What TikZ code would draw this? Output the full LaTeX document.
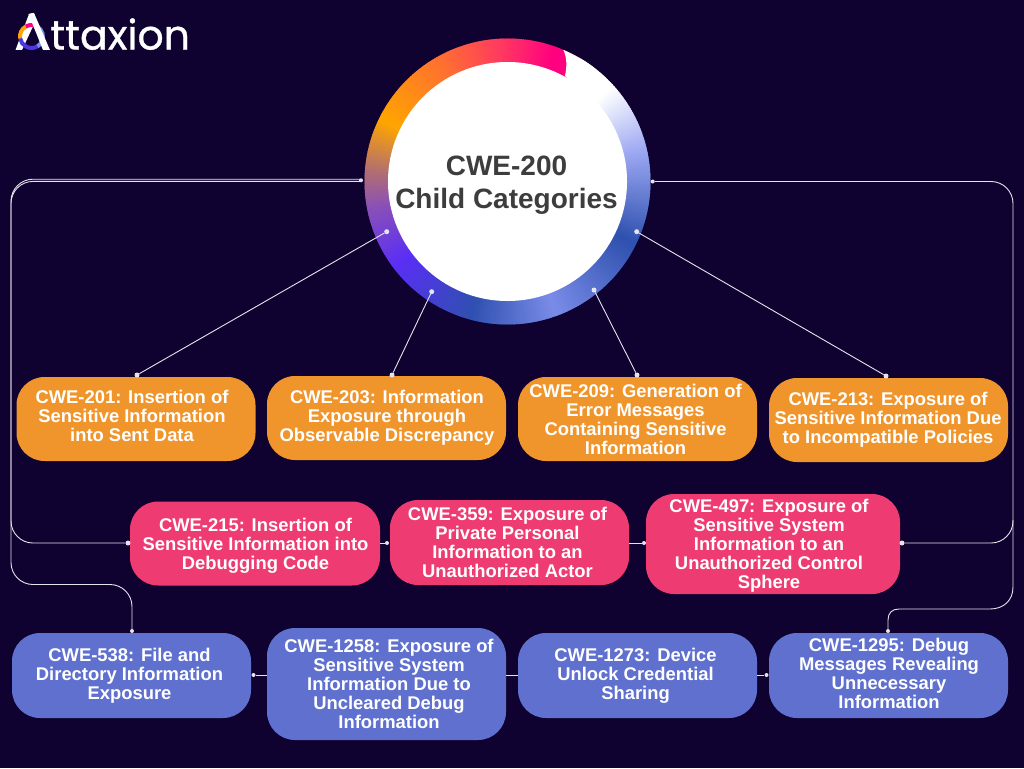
\documentclass[tikz,border=0pt]{standalone}
\usepackage{fontspec}
\setmainfont{Liberation Sans}
\newfontfamily\logofont[FakeBold=0.8]{Poppins}
\usetikzlibrary{calc}
\definecolor{bgc}{HTML}{0F0230}
\definecolor{orangebox}{HTML}{F0952B}
\definecolor{pinkbox}{HTML}{EE3B71}
\definecolor{bluebox}{HTML}{5F70CF}
\definecolor{linec}{HTML}{E4E4EC}
\definecolor{titlec}{HTML}{3D3D3D}
\definecolor{s0}{HTML}{FFFFFF}
\definecolor{s1}{HTML}{FFFFFF}
\definecolor{s2}{HTML}{9AA6F2}
\definecolor{s3}{HTML}{2E50AE}
\definecolor{s4}{HTML}{7A8CE8}
\definecolor{s5}{HTML}{2F50B0}
\definecolor{s6}{HTML}{5A2EF5}
\definecolor{s7}{HTML}{8A50B8}
\definecolor{s8}{HTML}{B4706E}
\definecolor{s9}{HTML}{FFA500}
\definecolor{s10}{HTML}{FF7030}
\definecolor{s11}{HTML}{FF3A60}
\definecolor{s12}{HTML}{FF0080}
% text block placed at (dx,dy) px from the centre of its box
\newcommand{\tb}[3]{\makebox[0pt][l]{\hspace*{#1pt}\makebox[0pt][c]{\raisebox{\dimexpr-7pt-#2pt\relax}[0pt][0pt]{\begin{tabular}{@{}c@{}}#3\end{tabular}}}}}
\tikzset{
  box/.style={rounded corners=28pt,minimum width=239pt,text=white,inner sep=0pt,
    font=\fontsize{18.4}{19}\selectfont\bfseries},
  obox/.style={box,fill=orangebox,minimum height=84pt},
  pbox/.style={box,fill=pinkbox,minimum height=84pt},
  bbox/.style={box,fill=bluebox,minimum height=85pt},
  dotn/.style={circle,fill=linec,inner sep=0pt,minimum size=5pt},
  conn/.style={draw=linec,line width=0.9pt},
  curve/.style={conn,rounded corners=22pt},
}
\begin{document}
\begin{tikzpicture}[x=1pt,y=-1pt]
\useasboundingbox (0,0) rectangle (1024,768);
\fill[bgc] (0,0) rectangle (1024,768);
% ring
\def\cx{507.5}\def\cy{181.5}
\foreach \aa/\ab/\ca/\cb in {30/48/s0/s1,48/78/s1/s2,78/116/s2/s3,116/160/s3/s4,160/195/s4/s5,195/233/s5/s6,233/259/s6/s7,259/275/s7/s8,275/296/s8/s9,296/331/s9/s10,331/357/s10/s11,357/380/s11/s12,380/390/s12/s12}{
  \pgfmathtruncatemacro\na{\aa}
  \pgfmathtruncatemacro\nb{\ab-1}
  \foreach \t in {\na,...,\nb}{
    \pgfmathsetmacro\p{100*(\t+0.5-\aa)/(\ab-\aa)}
    \pgfmathsetmacro\q{\t+1.6}
    \colorlet{segc}{\cb!\p!\ca}
    \fill[segc]
      ({\cx+143*sin(\t)},{\cy-143*cos(\t)}) -- ({\cx+143*sin(\q)},{\cy-143*cos(\q)})
      -- ({\cx+110*sin(\q)},{\cy-110*cos(\q)}) -- ({\cx+110*sin(\t)},{\cy-110*cos(\t)}) -- cycle;
  }
}
% white start of the ring
\fill[white] ({\cx+143*sin(23)},{\cy-143*cos(23)}) arc[start angle=67,end angle=52,radius=143pt] -- (590,100) -- (565,76)
  .. controls (567,66) and (567,58) .. cycle;
\node[circle,fill=white,minimum size=239pt,inner sep=0pt] (hub) at (\cx,\cy) {};
\node[text=titlec,align=center,inner sep=0pt,font=\fontsize{28}{33}\selectfont\bfseries] (title) at (506.5,185) {CWE-200\\Child Categories};
% boxes
\node[obox] (b201) at (136,419) {\tb{-4}{-3}{CWE-201: Insertion of\\Sensitive Information\\into Sent Data}};
\node[obox] (b203) at (386.5,418) {\tb{0.5}{-2}{CWE-203: Information\\Exposure through\\Observable Discrepancy}};
\node[obox] (b209) at (637.5,419) {\tb{-2}{0.5}{CWE-209: Generation of\\Error Messages\\Containing Sensitive\\Information}};
\node[obox] (b213) at (888.5,420) {\tb{-0.5}{-2}{CWE-213: Exposure of\\Sensitive Information Due\\to Incompatible Policies}};
\node[pbox,minimum width=250pt] (b215) at (255,543.5) {\tb{0.5}{0.5}{CWE-215: Insertion of\\Sensitive Information into\\Debugging Code}};
\node[pbox,minimum height=85pt] (b359) at (509.5,542.5) {\tb{-2}{0}{CWE-359: Exposure of\\Private Personal\\Information to an\\Unauthorized Actor}};
\node[pbox,minimum width=254pt,minimum height=100pt] (b497) at (773,544) {\tb{-4}{0}{CWE-497: Exposure of\\Sensitive System\\Information to an\\Unauthorized Control\\Sphere}};
\node[bbox] (b538) at (131.5,675.5) {\tb{-2}{-1.5}{CWE-538: File and\\Directory Information\\Exposure}};
\node[bbox,minimum height=112pt] (b1258) at (386.5,684) {\tb{2.5}{0}{CWE-1258: Exposure of\\Sensitive System\\Information Due to\\Uncleared Debug\\Information}};
\node[bbox] (b1273) at (637.5,675.5) {\tb{-2}{-1.5}{CWE-1273: Device\\Unlock Credential\\Sharing}};
\node[bbox] (b1295) at (888.5,675.5) {\tb{0.5}{-2}{CWE-1295: Debug\\Messages Revealing\\Unnecessary\\Information}};
% dots on the ring
\node[dotn] (r201) at (386.7,231.7) {};
\node[dotn] (r203) at (431.7,291.7) {};
\node[dotn] (r209) at (594,290) {};
\node[dotn] (r213) at (636.7,231.7) {};
\node[dotn,minimum size=4pt] (rleft) at (361,180.3) {};
\node[dotn,minimum size=4pt] (rright) at (652.7,181.5) {};
% dots on the boxes
\node[dotn] (d201) at (137,375) {};
\node[dotn] (d203) at (392,375) {};
\node[dotn] (d209) at (637,375) {};
\node[dotn] (d213) at (886,376) {};
\node[dotn] (d215) at (128,543) {};
\node[dotn,minimum size=4pt] (d359) at (387,543) {};
\node[dotn,minimum size=4pt] (d497) at (644,543) {};
\node[dotn] (d497r) at (902,543) {};
\node[dotn,minimum size=4pt] (d538) at (132,631) {};
\node[dotn,minimum size=4pt] (d538r) at (253.5,675) {};
\node[dotn,minimum size=4pt] (d1295) at (888,631) {};
\node[dotn,minimum size=4pt] (d1295l) at (766.5,675) {};
% straight connectors
\draw[conn] (r201) -- (d201);
\draw[conn] (r203) -- (d203);
\draw[conn] (r209) -- (d209);
\draw[conn] (r213) -- (d213);
\draw[conn] (b215.east |- d359) -- (d359);
\draw[conn] (b359.east |- d497) -- (d497);
\draw[conn] (b1258.west |- d538r) -- (d538r);
\draw[conn] (b1273.west |- d538r) -- (b1258.east |- d538r);
\draw[conn] (b1273.east |- d1295l) -- (d1295l);
% routed connectors
\draw[curve] (rleft.center |- 0,179.2) -- (11,179.2) -- (11,543) -- (d215);
\draw[curve] (rleft.center |- 0,181.4) -- (11,181.4) -- (11,584.5) -- (132,584.5) -- (d538);
\draw[curve] (rright) -- (1013,181.5) -- (1013,543) -- (d497r);
\draw[conn] (1013,520) -- (1013,587) .. controls (1013,601) and (1003,609) .. (990,609) -- (899,609) .. controls (892,609) and (888,613) .. (888,620) -- (d1295);
% logo
\node[anchor=base west,inner sep=0pt,text=white,font=\fontsize{41}{41}\logofont] (logo) at (50,49.5) {ttaxion};
\fill[white] (29,14) -- (33.5,13) -- (36,20) -- (22,50) -- (15.5,50) -- cycle;
\draw[line width=4pt,color=s9] (31.5,36.5) ++(190:11.5pt) arc[start angle=190,end angle=120,radius=11.5pt];
\draw[line width=4pt,color=s12] (31.5,36.5) ++(120:11.5pt) arc[start angle=120,end angle=60,radius=11.5pt];
\draw[line width=4pt,color=s4] (31.5,36.5) ++(60:11.5pt) arc[start angle=60,end angle=-60,radius=11.5pt];
\draw[line width=4pt,color=s6!70!s3] (31.5,36.5) ++(-60:11.5pt) arc[start angle=-60,end angle=-170,radius=11.5pt];
\fill[white] (28.5,14) -- (34,13) -- (50,50) -- (43,50) -- cycle;
\end{tikzpicture}
\end{document}
